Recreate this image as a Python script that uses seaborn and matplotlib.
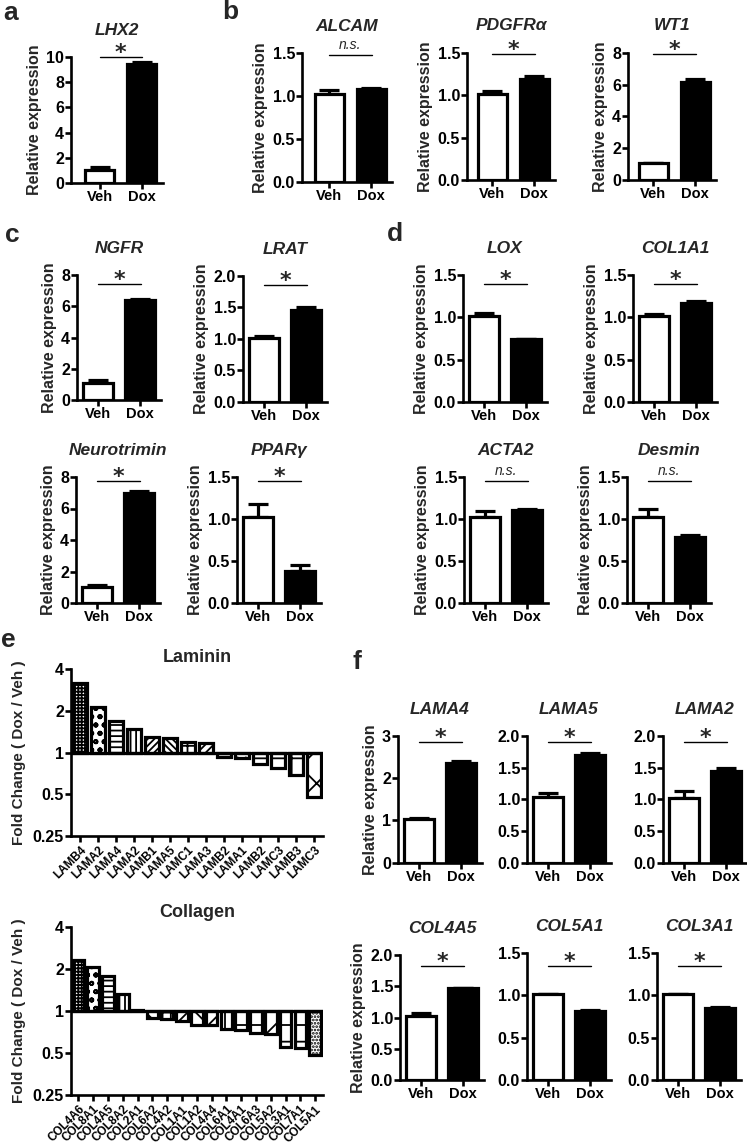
import numpy as np
import pandas as pd
import matplotlib
matplotlib.use('Agg')
import matplotlib.pyplot as plt
import matplotlib.transforms as mtransforms
import seaborn as sns

# --- data: Veh / Dox bar panels (a-d, f), in reading order row by row ---
small_genes = ['LHX2', 'ALCAM', 'PDGFRα', 'WT1',
               'NGFR', 'LRAT', 'LOX', 'COL1A1',
               'Neurotrimin', 'PPARγ', 'ACTA2', 'Desmin',
               'LAMA4', 'LAMA5', 'LAMA2', 'COL4A5', 'COL5A1', 'COL3A1']
veh_mean = [1.05, 1.02, 1.01, 1.04, 1.10, 1.02, 1.02, 1.02, 1.04, 1.02, 1.02, 1.02,
            1.03, 1.03, 1.02, 1.02, 1.01, 1.01]
veh_sem = [0.20, 0.05, 0.04, 0.05, 0.17, 0.03, 0.03, 0.02, 0.10, 0.16, 0.08, 0.10,
           0.03, 0.07, 0.11, 0.05, 0.01, 0.01]
dox_mean = [9.5, 1.08, 1.19, 6.18, 6.38, 1.46, 0.74, 1.17, 6.96, 0.38, 1.11, 0.78,
            2.35, 1.70, 1.45, 1.47, 0.82, 0.85]
dox_sem = [0.13, 0.01, 0.03, 0.15, 0.08, 0.05, 0.005, 0.02, 0.14, 0.07, 0.01, 0.03,
           0.06, 0.03, 0.05, 0.01, 0.005, 0.01]
signif = ['*', 'n.s.', '*', '*', '*', '*', '*', '*', '*', '*', 'n.s.', 'n.s.',
          '*', '*', '*', '*', '*', '*']
y_max = [10, 1.5, 1.5, 8, 8, 2.0, 1.5, 1.5, 8, 1.5, 1.5, 1.5, 3, 2.0, 2.0, 2.0, 1.5, 1.5]
y_step = [2, 0.5, 0.5, 2, 2, 0.5, 0.5, 0.5, 2, 0.5, 0.5, 0.5, 1, 0.5, 0.5, 0.5, 0.5, 0.5]
show_ylabel = [True] * 12 + [True, False, False, True, False, False]
groups = ['Veh', 'Dox']

# --- data: fold change panels (e) ---
laminin_genes = ['LAMB4', 'LAMA2', 'LAMA4', 'LAMA2', 'LAMB1', 'LAMA5', 'LAMC1', 'LAMA3',
                 'LAMB2', 'LAMA1', 'LAMB2', 'LAMC3', 'LAMB3', 'LAMC3']
laminin_fc = [3.2, 2.15, 1.70, 1.47, 1.29, 1.27, 1.19, 1.18, 0.93, 0.92, 0.83, 0.78, 0.69, 0.48]
collagen_genes = ['COL4A6', 'COL8A1', 'COL4A5', 'COL8A2', 'COL2A1', 'COL6A2', 'COL4A2',
                  'COL1A1', 'COL1A2', 'COL4A4', 'COL6A1', 'COL4A1', 'COL6A3', 'COL5A2',
                  'COL3A1', 'COL7A1', 'COL5A1']
collagen_fc = [2.32, 2.06, 1.79, 1.33, 1.02, 0.89, 0.87, 0.84, 0.79, 0.79, 0.74, 0.73,
               0.69, 0.68, 0.55, 0.54, 0.48]
fc_ticks = [0.25, 0.5, 1, 2, 4]
fc_tick_labels = ['0.25', '0.5', '1', '2', '4']

# --- layout (pixels): spine x, top y, bottom y, left xlim, sig line height ---
layout = [(71, 57.3, 182.7, -0.68, 1.0), (302, 53.3, 181.7, -0.65, 0.99),
          (467, 52.7, 180, -0.6, 0.99), (628, 52.7, 180, -0.6, 0.99),
          (77, 275, 400, -0.5, 0.93), (243, 276, 402, -0.5, 0.93),
          (463, 275, 402, -0.5, 0.93), (633, 275, 402, -0.5, 0.93),
          (76, 477, 603, -0.5, 0.968), (237, 477, 603, -0.5, 0.968),
          (464, 477, 603, -0.5, 0.968), (627, 477, 603, -0.5, 0.968),
          (398, 736, 862.7, -0.5, 0.955), (527, 736, 862.7, -0.5, 0.955),
          (663, 736, 862.7, -0.5, 0.955),
          (400, 955, 1080, -0.5, 0.914), (527, 953, 1080, -0.5, 0.9),
          (657, 953, 1080, -0.5, 0.9)]
laminin_hatch = ['+++++', 'oo', '---', '|||', '/////', '\\\\\\\\\\', '++', '////',
                 '--', '..', '-', '-', '+', 'x']
collagen_hatch = ['+++++', 'oo', '---', '|||', '////', '\\\\', '++', '//', '\\\\', '/',
                  '|', '-', '-', 'x', '|-', '-|', '.....']

W, H = 747, 1147
LW = 2.3

sns.set_style('ticks')
plt.rcParams['font.family'] = ['Liberation Sans', 'DejaVu Sans']
plt.rcParams['font.weight'] = 'bold'
plt.rcParams['axes.labelweight'] = 'bold'
plt.rcParams['axes.linewidth'] = 1.9
plt.rcParams['hatch.linewidth'] = 1.3
plt.rcParams['xtick.major.width'] = 1.9
plt.rcParams['ytick.major.width'] = 1.9
plt.rcParams['xtick.major.size'] = 4
plt.rcParams['ytick.major.size'] = 4
plt.rcParams['xtick.color'] = 'black'
plt.rcParams['ytick.color'] = 'black'
plt.rcParams['axes.edgecolor'] = 'black'


def px_rect(left, top, bottom, width):
   return [left / W, 1 - bottom / H, width / W, (bottom - top) / H]


def bold_ticks(ax):
   for lab in ax.get_xticklabels() + ax.get_yticklabels():
      lab.set_fontweight('bold')


def small_panel(fig, i):
   left, top, bottom, xl, sig_y = layout[i]
   width = 42 * (1.5 - xl)
   ax = fig.add_axes(px_rect(left, top, bottom, width))
   df = pd.DataFrame({'group': groups, 'value': [veh_mean[i], dox_mean[i]]})
   ax.errorbar([0, 1], df['value'], yerr=[[0, 0], [veh_sem[i], dox_sem[i]]],
               fmt='none', ecolor='black', elinewidth=LW, capsize=7.5, capthick=LW, zorder=1)
   sns.barplot(data=df, x='group', y='value', hue='group', palette=['white', 'black'],
               edgecolor='black', linewidth=LW, width=0.7, legend=False, ax=ax, zorder=2)
   ax.set_xlim(xl, 1.5)
   ax.set_ylim(0, y_max[i])
   ax.set_yticks(np.arange(0, y_max[i] + 1e-9, y_step[i]))
   if y_step[i] < 1:
      ax.set_yticklabels([f'{t:.1f}' for t in ax.get_yticks()])
   ax.tick_params(axis='y', labelsize=11.5, pad=1)
   ax.tick_params(axis='x', labelsize=10.5, pad=1)
   bold_ticks(ax)
   ax.set_xlabel('')
   ax.set_ylabel('Relative expression' if show_ylabel[i] else '', fontsize=11.5, labelpad=3)
   ax.set_title(small_genes[i], fontsize=12.5, fontstyle='italic', fontweight='bold', pad=16)
   sns.despine(ax=ax)
   trans = mtransforms.blended_transform_factory(ax.transData, ax.transAxes)
   ax.plot([0, 1.02], [sig_y, sig_y], color='black', lw=1.0, transform=trans, clip_on=False)
   if signif[i] == '*':
      ax.annotate('*', xy=(0.5, sig_y), xycoords=trans, xytext=(0, -1.5),
                  textcoords='offset points', ha='center', va='baseline', fontsize=16,
                  fontweight='bold', family='DejaVu Sans')
   else:
      ax.annotate('n.s.', xy=(0.5, sig_y), xycoords=trans, xytext=(0, 2),
                  textcoords='offset points', ha='center', va='bottom', fontsize=10,
                  fontstyle='italic', fontweight='normal')
   return ax


def fc_panel(fig, rect, genes, fc, hatches, title, title_pad):
   ax = fig.add_axes(rect)
   df = pd.DataFrame({'pos': np.arange(len(genes)), 'lfc': np.log2(fc)})
   sns.barplot(data=df, x='pos', y='lfc', color='white', edgecolor='black',
               linewidth=LW, width=0.78, ax=ax, zorder=2)
   for patch, hatch in zip(ax.patches, hatches):
      patch.set_hatch(hatch)
   ax.axhline(0, color='black', lw=LW, zorder=3)
   ax.set_xlim(-0.5, len(genes) - 0.5)
   ax.set_ylim(np.log2(fc_ticks[0]), np.log2(fc_ticks[-1]))
   ax.set_yticks(np.log2(fc_ticks))
   ax.set_yticklabels(fc_tick_labels)
   ax.set_xticks(np.arange(len(genes)))
   ax.set_xticklabels(genes, rotation=45, ha='right', rotation_mode='anchor', fontsize=8.5)
   ax.tick_params(axis='y', labelsize=11.5, pad=1)
   ax.tick_params(axis='x', pad=2)
   bold_ticks(ax)
   ax.set_xlabel('')
   ax.set_ylabel('Fold Change ( Dox / Veh )', fontsize=11, labelpad=5)
   ax.set_title(title, fontsize=13, fontweight='bold', pad=title_pad)
   sns.despine(ax=ax)
   return ax


fig = plt.figure(figsize=(W / 100, H / 100), dpi=100)

for i in range(len(small_genes)):
   small_panel(fig, i)

fc_panel(fig, px_rect(71, 669.3, 836, 252), laminin_genes, laminin_fc, laminin_hatch, 'Laminin', 5)
fc_panel(fig, px_rect(71, 926.7, 1095, 251.6), collagen_genes, collagen_fc, collagen_hatch, 'Collagen', 7)

for letter, x, y in [('a', 11, 13), ('b', 230, 12), ('c', 12, 235), ('d', 395, 234),
                     ('e', 8, 640), ('f', 357, 662)]:
   fig.text(x / W, 1 - y / H, letter, fontsize=19, fontweight='bold', ha='center', va='center')

fig.savefig('out.png', dpi=100)
